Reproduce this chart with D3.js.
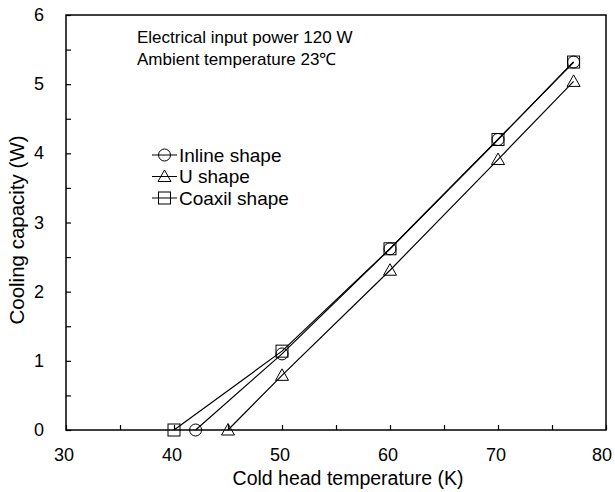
<!DOCTYPE html>
<html>
<head>
<meta charset="utf-8">
<script src="https://cdn.jsdelivr.net/npm/d3@7"></script>
<style>
  body { margin: 0; background: #fff; }
  text { font-family: "Liberation Sans", Arial, sans-serif; fill: #000; }
</style>
</head>
<body>
<svg id="chart" width="615" height="492"></svg>
<script>
const temps_inline = [42, 50, 60, 70, 77]
const cap_inline = [0, 1.10, 2.62, 4.20, 5.32]
const temps_u = [45, 50, 60, 70, 77]
const cap_u = [0, 0.79, 2.31, 3.91, 5.04]
const temps_coax = [40, 50, 60, 70, 77]
const cap_coax = [0, 1.14, 2.62, 4.20, 5.32]
const xTicks = [30, 40, 50, 60, 70, 80]
const yTicks = [0, 1, 2, 3, 4, 5, 6]
const seriesNames = ["Inline shape", "U shape", "Coaxil shape"]

const margin = {top: 15, right: 9, bottom: 62, left: 66}
const width = 615 - margin.left - margin.right,
      height = 492 - margin.top - margin.bottom

const svg = d3.select("#chart")
const chart = svg.append("g")
    .attr("transform", "translate(" + margin.left + "," + margin.top + ")")

const x = d3.scaleLinear().domain([30, 80]).range([0, width])
const y = d3.scaleLinear().domain([0, 6]).range([height, 0])

// frame
chart.append("rect")
    .attr("width", width).attr("height", height)
    .attr("fill", "none").attr("stroke", "#000").attr("stroke-width", 1.5)

// inward ticks incl. minor ones
const xAxis = chart.append("g").attr("transform", "translate(0," + height + ")")
    .call(d3.axisBottom(x).tickValues(d3.range(30, 81, 5)).tickSize(-5).tickFormat(""))
xAxis.select(".domain").remove()
xAxis.selectAll("line").attr("stroke-width", 1.2)
const yAxis = chart.append("g")
    .call(d3.axisLeft(y).tickValues(d3.range(0, 6.01, 0.5)).tickSize(-5).tickFormat(""))
yAxis.select(".domain").remove()
yAxis.selectAll("line").attr("stroke-width", 1.2)

chart.selectAll(".xlab").data(xTicks).enter().append("text")
    .attr("x", d => Math.min(x(d) - 2, width - 4)).attr("y", height + 31)
    .attr("text-anchor", "middle").style("font-size", "18px")
    .text(d => d)
chart.selectAll(".ylab").data(yTicks).enter().append("text")
    .attr("x", -22).attr("y", d => y(d) + 6)
    .attr("text-anchor", "end").style("font-size", "18px")
    .text(d => d)

chart.append("text")
    .attr("x", width / 2 + 12).attr("y", height + 55)
    .attr("text-anchor", "middle").style("font-size", "19.5px")
    .text("Cold head temperature (K)")
svg.append("text")
    .attr("transform", "translate(24,230) rotate(-90)")
    .attr("text-anchor", "middle").style("font-size", "20.5px")
    .text("Cooling capacity (W)")

chart.append("text").attr("x", 71).attr("y", 28).style("font-size", "17px")
    .text("Electrical input power 120 W")
chart.append("text").attr("x", 71).attr("y", 50).style("font-size", "17px")
    .text("Ambient temperature 23\u2103")

const series = [
  {name: seriesNames[0], xs: temps_inline, ys: cap_inline, shape: "circle"},
  {name: seriesNames[1], xs: temps_u, ys: cap_u, shape: "triangle"},
  {name: seriesNames[2], xs: temps_coax, ys: cap_coax, shape: "square"}
]

const line = d3.line().x(d => x(d[0])).y(d => y(d[1]))

function drawMarker(g, shape, cx, cy) {
  if (shape === "circle") {
    g.append("circle").attr("cx", cx).attr("cy", cy).attr("r", 6)
      .attr("fill", "none").attr("stroke", "#000").attr("stroke-width", 1)
  } else if (shape === "square") {
    g.append("rect").attr("x", cx - 6).attr("y", cy - 6).attr("width", 12).attr("height", 12)
      .attr("fill", "none").attr("stroke", "#000").attr("stroke-width", 1)
  } else {
    g.append("path").attr("d", "M" + cx + "," + (cy - 6.5) + "L" + (cx + 6.5) + "," + (cy + 5) + "L" + (cx - 6.5) + "," + (cy + 5) + "Z")
      .attr("fill", "none").attr("stroke", "#000").attr("stroke-width", 1)
  }
}

series.forEach(s => {
  const pts = s.xs.map((v, i) => [v, s.ys[i]])
  chart.append("path").datum(pts).attr("d", line)
    .attr("fill", "none").attr("stroke", "#000").attr("stroke-width", 1.2)
  const g = chart.append("g")
  pts.forEach(p => drawMarker(g, s.shape, x(p[0]), y(p[1])))
})

// legend
const legend = chart.append("g").attr("transform", "translate(86,140)")
series.forEach((s, i) => {
  const ly = i * 21.5
  const g = legend.append("g")
  g.append("line").attr("x1", 0).attr("x2", 25).attr("y1", ly).attr("y2", ly)
    .attr("stroke", "#000").attr("stroke-width", 1)
  drawMarker(g, s.shape, 12.5, ly)
  g.append("text").attr("x", 27).attr("y", ly + 6.5).style("font-size", "19px").text(s.name)
})
</script>
</body>
</html>
